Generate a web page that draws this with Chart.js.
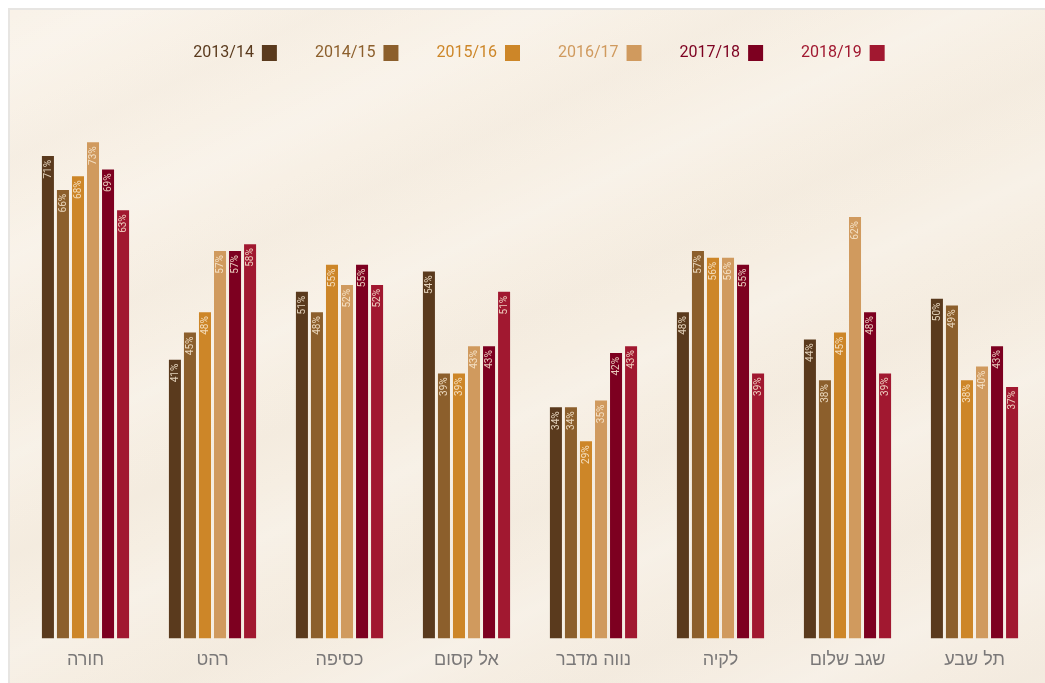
<!DOCTYPE html>
<html>
<head>
<meta charset="utf-8">
<script src="https://cdn.jsdelivr.net/npm/chart.js@4"></script>
<style>
  html, body { margin:0; padding:0; background:#ffffff; overflow:hidden; width:1045px; height:683px; }
  #frame {
    position:absolute; left:8px; top:8px; width:1044px; height:684px;
    border:2px solid #e7e5e2; box-sizing:border-box;
    background-color:#f7efe4;
    background-image:
      repeating-linear-gradient(155deg, rgba(255,255,255,0.0) 0px, rgba(255,255,255,0.18) 45px, rgba(255,255,255,0.0) 90px, rgba(225,212,195,0.10) 135px, rgba(255,255,255,0.0) 180px),
      linear-gradient(160deg, #f9f2e8 0%, #f6eee2 50%, #f5ede2 100%);
  }
  #wrap { position:absolute; left:0; top:0; width:1040px; height:673px; }
</style>
</head>
<body>
<div id="frame"><div id="wrap"><canvas id="c"></canvas></div></div>
<script>
const categories = ['חורה','רהט','כסיפה','אל קסום','נווה מדבר','לקיה','שגב שלום','תל שבע'];
const seriesNames = ['2013/14','2014/15','2015/16','2016/17','2017/18','2018/19'];
const seriesColors = ['#5a3a1d','#8c5f2c','#cd8628','#d09a5e','#7d0020','#a11830'];
const v2013 = [71,41,51,54,34,48,44,50];
const v2014 = [66,45,48,39,34,57,38,49];
const v2015 = [68,48,55,39,29,56,45,38];
const v2016 = [73,57,52,43,35,56,62,40];
const v2017 = [69,57,55,43,42,55,48,43];
const v2018 = [63,58,52,51,43,39,39,37];
const seriesValues = [v2013, v2014, v2015, v2016, v2017, v2018];

const barLabels = {
  id: 'barLabels',
  afterDatasetsDraw(chart) {
    const ctx = chart.ctx;
    chart.data.datasets.forEach((ds, i) => {
      const meta = chart.getDatasetMeta(i);
      meta.data.forEach((bar, j) => {
        ctx.save();
        ctx.translate(bar.x, bar.y + 4);
        ctx.rotate(-Math.PI / 2);
        ctx.font = '10px Roboto';
        ctx.fillStyle = 'rgba(250,236,214,0.85)';
        ctx.textAlign = 'right';
        ctx.textBaseline = 'middle';
        ctx.fillText(ds.data[j] + '%', 0, 0.5);
        ctx.restore();
      });
    });
  }
};

const legendShift = {
  id: 'legendShift',
  afterLayout(chart) {
    if (chart.legend) {
      chart.legend.left += 9;
      chart.legend.right += 9;
    }
  }
};

new Chart(document.getElementById('c'), {
  type: 'bar',
  data: {
    labels: categories,
    datasets: seriesNames.map((n, i) => ({
      label: n,
      data: seriesValues[i],
      backgroundColor: seriesColors[i],
      borderWidth: 0,
      barPercentage: 0.8,
      categoryPercentage: 0.71
    }))
  },
  options: {
    responsive: true,
    maintainAspectRatio: false,
    animation: false,
    layout: { padding: { left: 12, right: 12, top: -3, bottom: 1 } },
    plugins: {
      tooltip: { enabled: false },
      legend: {
        position: 'top',
        rtl: true,
        reverse: true,
        labels: {
          boxWidth: 15,
          boxHeight: 16,
          padding: 38,
          font: { family: 'Roboto', size: 16 },
          generateLabels(chart) {
            return chart.data.datasets.map((ds, i) => ({
              text: ds.label,
              fillStyle: ds.backgroundColor,
              strokeStyle: ds.backgroundColor,
              lineWidth: 0,
              fontColor: ds.backgroundColor,
              hidden: false,
              datasetIndex: i
            }));
          }
        }
      }
    },
    scales: {
      x: {
        grid: { display: false, drawTicks: false },
        border: { display: false },
        ticks: { color: '#7a7878', padding: 11, font: { family: 'Liberation Sans', size: 18 } }
      },
      y: {
        display: false,
        min: 0,
        max: 83.5
      }
    }
  },
  plugins: [barLabels, legendShift]
});
</script>
</body>
</html>
